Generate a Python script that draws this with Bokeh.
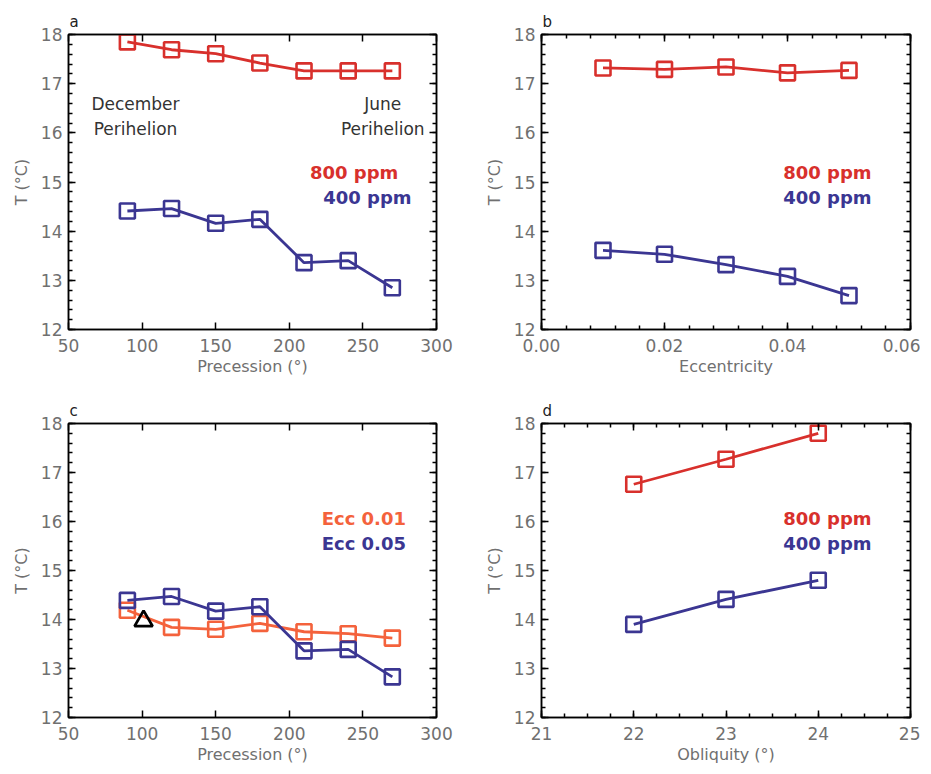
from bokeh.plotting import figure
from bokeh.models import LinearAxis, SingleIntervalTicker, Range1d, PrintfTickFormatter, CustomJSTickFormatter
from bokeh.layouts import column, row
from bokeh.core.properties import value
from bokeh.embed import file_html
from bokeh.resources import INLINE

# ---- data ----
precession = [90, 120, 150, 180, 210, 240, 270]
a_800ppm = [17.85, 17.69, 17.61, 17.42, 17.26, 17.26, 17.26]
a_400ppm = [14.41, 14.46, 14.16, 14.24, 13.36, 13.40, 12.85]

eccentricity = [0.01, 0.02, 0.03, 0.04, 0.05]
b_800ppm = [17.32, 17.29, 17.34, 17.22, 17.27]
b_400ppm = [13.61, 13.53, 13.32, 13.08, 12.69]

c_ecc001 = [14.19, 13.84, 13.80, 13.92, 13.75, 13.71, 13.62]
c_ecc005 = [14.39, 14.47, 14.17, 14.26, 13.36, 13.39, 12.83]
c_triangle_x = [101]
c_triangle_y = [13.97]

obliquity = [22, 23, 24]
d_800ppm = [16.76, 17.27, 17.80]
d_400ppm = [13.90, 14.41, 14.80]

RED = "#d8302c"
BLUE = "#3b3692"
ORANGE = "#f4623c"
TICK_GRAY = "#707070"
FONT = "DejaVu Sans"


def make_fig(xr, xint, xminor, xlabel, borders, height, letter, xfmt=None):
    left, right, top, bottom = borders
    p = figure(width=460, height=height, x_range=Range1d(*xr), y_range=Range1d(12, 18),
               output_backend="svg", toolbar_location=None,
               min_border_left=left, min_border_right=right,
               min_border_top=top, min_border_bottom=bottom)
    p.title.text = letter
    p.title.align = "left"
    p.title.offset = 1
    p.title.text_font = FONT
    p.title.text_font_size = "15px"
    p.title.text_font_style = "normal"
    p.title.text_color = "#222222"
    p.title.standoff = 7
    p.xgrid.visible = False
    p.ygrid.visible = False
    p.outline_line_color = "black"
    p.outline_line_width = 1.5
    p.outline_line_alpha = 1.0
    xt = SingleIntervalTicker(interval=xint, num_minor_ticks=max(xminor, 1))
    yt = SingleIntervalTicker(interval=1, num_minor_ticks=5)
    p.xaxis.ticker = xt
    p.yaxis.ticker = yt
    if xfmt:
        p.xaxis.formatter = xfmt
    p.xaxis.axis_label = xlabel
    p.yaxis.axis_label = "T (°C)"
    for ax in (p.xaxis[0], p.yaxis[0]):
        ax.axis_line_color = "black"
        ax.axis_line_width = 1.5
        ax.major_tick_in = 7
        ax.major_tick_out = 0
        ax.minor_tick_in = 4
        ax.minor_tick_out = 0
        ax.major_tick_line_width = 1.5
        ax.minor_tick_line_width = 1.5
        ax.major_label_text_font = FONT
        ax.major_label_text_font_size = "17px"
        ax.major_label_text_color = TICK_GRAY
        ax.axis_label_text_font = FONT
        ax.axis_label_text_font_size = "16px"
        ax.axis_label_text_font_style = "normal"
        ax.axis_label_text_color = TICK_GRAY
    p.xaxis.major_label_standoff = 9
    p.xaxis.axis_label_standoff = 2
    p.yaxis.major_label_standoff = 6
    p.yaxis.axis_label_standoff = 7
    if xminor == 0:
        p.xaxis.minor_tick_line_color = None
    # mirrored axes (ticks only)
    blank = CustomJSTickFormatter(code="return ''")
    top_ax = LinearAxis(ticker=xt, formatter=blank, major_label_standoff=0,
                        major_tick_in=7, major_tick_out=0, minor_tick_in=4, minor_tick_out=0,
                        major_tick_line_width=1.5, minor_tick_line_width=1.5,
                        axis_line_color="black", axis_line_width=1.5)
    if xminor == 0:
        top_ax.minor_tick_line_color = None
    right_ax = LinearAxis(ticker=yt, formatter=blank, major_label_standoff=0,
                          major_tick_in=7, major_tick_out=0, minor_tick_in=4, minor_tick_out=0,
                          major_tick_line_width=1.5, minor_tick_line_width=1.5,
                          axis_line_color="black", axis_line_width=1.5)
    p.add_layout(top_ax, "above")
    p.add_layout(right_ax, "right")
    return p


def series(p, x, y, color):
    p.line(x, y, line_color=color, line_width=2.8)
    p.scatter(x, y, marker="square", size=15, fill_color=None, line_color=color, line_width=2.6)


def legend_text(p, xs, ys, texts, colors):
    p.text(x=xs, y=ys, text=texts, text_color=colors, text_font=value(FONT),
           text_font_size="18px", text_font_style="bold", text_baseline="middle", text_align="left")


# ---- panel a ----
pa = make_fig((50, 300), 50, 0, "Precession (°)", (68, 24, 34, 51), 380, "a")
series(pa, precession, a_800ppm, RED)
series(pa, precession, a_400ppm, BLUE)
pa.text(x=[95.5, 95.5, 263.5, 263.5], y=[16.58, 16.07, 16.58, 16.07],
        text=["December", "Perihelion", "June", "Perihelion"],
        text_color="#333333", text_font=value(FONT), text_font_size="17px",
        text_baseline="middle", text_align="center")
legend_text(pa, [214, 223], [15.19, 14.68], ["800 ppm", "400 ppm"], [RED, BLUE])

# ---- panel b ----
pb = make_fig((0, 0.06), 0.02, 5, "Eccentricity", (81, 10, 34, 51), 380, "b",
              PrintfTickFormatter(format="%.2f"))
series(pb, eccentricity, b_800ppm, RED)
series(pb, eccentricity, b_400ppm, BLUE)
legend_text(pb, [0.0393, 0.0393], [15.19, 14.68], ["800 ppm", "400 ppm"], [RED, BLUE])

# ---- panel c ----
pc = make_fig((50, 300), 50, 0, "Precession (°)", (68, 24, 43, 53), 390, "c")
series(pc, precession, c_ecc001, ORANGE)
series(pc, precession, c_ecc005, BLUE)
pc.scatter(c_triangle_x, c_triangle_y, marker="triangle", size=18, fill_color=None,
           line_color="black", line_width=2.8)
legend_text(pc, [222, 222], [16.07, 15.56], ["Ecc 0.01", "Ecc 0.05"], [ORANGE, BLUE])

# ---- panel d ----
pd_ = make_fig((21, 25), 1, 4, "Obliquity (°)", (81, 10, 43, 53), 390, "d")
series(pd_, obliquity, d_800ppm, RED)
series(pd_, obliquity, d_400ppm, BLUE)
legend_text(pd_, [23.62, 23.62], [16.07, 15.56], ["800 ppm", "400 ppm"], [RED, BLUE])

layout = column(row(pa, pb), row(pc, pd_))
open("out.html", "w").write(file_html(layout, INLINE))
